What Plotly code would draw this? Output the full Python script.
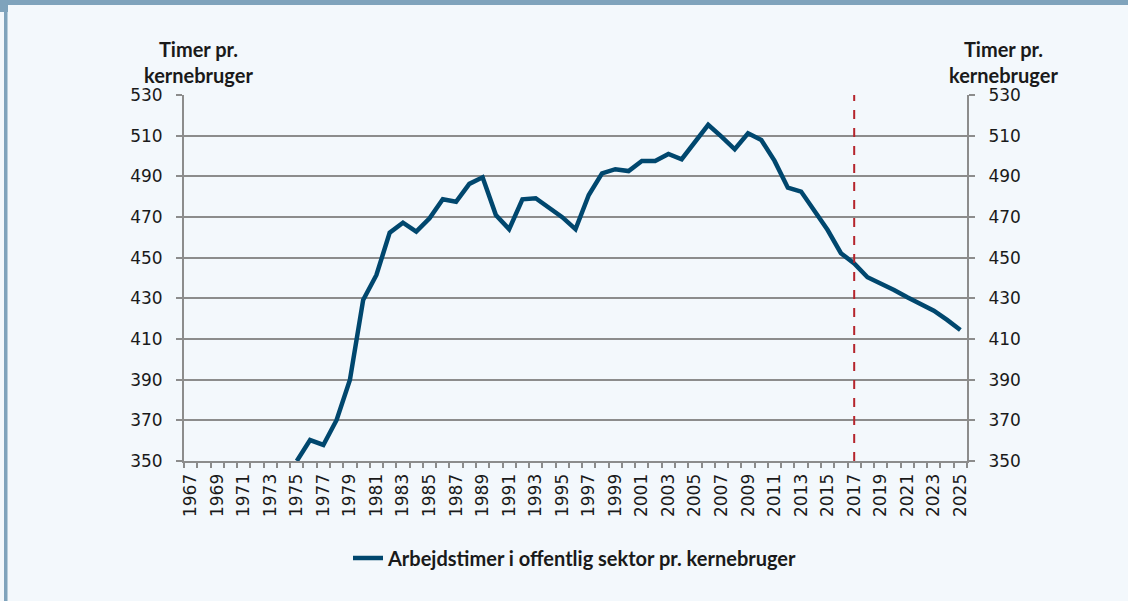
import plotly.graph_objects as go

# ---- data ----
years = list(range(1975, 2026))
hours = [350.0, 360.3, 357.9, 370.2, 389.8, 429.2, 441.5, 462.3, 467.2, 462.8,
         469.4, 478.7, 477.5, 486.3, 489.5, 471.0, 464.0, 478.7, 479.2, 474.8,
         469.9, 464.0, 480.8, 491.5, 493.5, 492.6, 497.6, 497.6, 501.0, 498.4,
         506.6, 515.3, 509.5, 503.3, 511.2, 507.9, 497.6, 484.4, 482.5, 473.5,
         463.6, 452.2, 447.2, 440.4, 437.4, 434.1, 430.5, 427.2, 423.9, 419.4,
         414.4]
series_name = "Arbejdstimer i offentlig sektor pr. kernebruger"
axis_title = "Timer pr.<br>kernebruger"
year_labels = [str(y) for y in range(1967, 2026, 2)]
y_ticks = list(range(350, 531, 20))
forecast_year = 2017
x_first, x_last = 1967, 2025

# ---- layout geometry (pixels) ----
W, H = 1128, 601
L, R, T, B = 184, 967, 95, 461


def px(x):
    return (x - L) / (R - L)


def py(y):
    return (B - y) / (B - T)


GRID = "#8c8c8c"
LINE = "#00476e"
BG = "#f3f8fc"
FRAME = "#7fa3bc"
TXT = "#1a1a1a"

fig = go.Figure()
fig.add_trace(go.Scatter(
    x=years, y=hours, mode="lines", name=series_name,
    line=dict(color=LINE, width=4.5), showlegend=True,
))
fig.add_trace(go.Scatter(
    x=years, y=hours, mode="lines", yaxis="y2", showlegend=False,
    line=dict(color="rgba(0,0,0,0)", width=0), hoverinfo="skip",
))

tickfont = dict(family="DejaVu Sans", size=17, color=TXT)
boldfont = dict(family="Lato", size=20, color=TXT, weight="bold")
yrange = [y_ticks[0], y_ticks[-1]]

fig.update_layout(
    width=W, height=H,
    margin=dict(l=L, r=W - R, t=T, b=H - B, pad=0),
    paper_bgcolor=BG, plot_bgcolor=BG,
    showlegend=True,
    legend=dict(
        orientation="h", x=0.5, xanchor="center", y=py(558), yanchor="middle",
        font=boldfont, bgcolor="rgba(0,0,0,0)",
    ),
    xaxis=dict(
        type="linear", range=[x_first - 0.5, x_last + 0.5],
        tickmode="array", tickvals=[int(v) for v in year_labels], ticktext=year_labels,
        tickangle=-90, ticks="", tickfont=tickfont, ticklabelstandoff=4,
        showgrid=False, zeroline=False,
        showline=True, linecolor=GRID, linewidth=2,
        minor=dict(ticks="outside", tick0=x_first - 0.5, dtick=1, ticklen=5,
                   tickcolor=GRID, tickwidth=2, showgrid=False),
    ),
    yaxis=dict(
        range=yrange, tickmode="array", tickvals=y_ticks,
        ticks="outside", ticklen=6, tickcolor=GRID, tickwidth=2,
        tickfont=tickfont, ticklabelstandoff=10,
        showgrid=True, gridcolor=GRID, gridwidth=2,
        zeroline=False, showline=True, linecolor=GRID, linewidth=2,
    ),
    yaxis2=dict(
        range=yrange, tickmode="array", tickvals=y_ticks, overlaying="y", side="right",
        ticks="outside", ticklen=6, tickcolor=GRID, tickwidth=2,
        tickfont=tickfont, ticklabelstandoff=10,
        showgrid=False, zeroline=False, showline=True, linecolor=GRID, linewidth=2,
    ),
    shapes=[
        dict(type="line", xref="x", yref="y", x0=forecast_year, x1=forecast_year,
             y0=yrange[0], y1=yrange[1], line=dict(color="#b5242c", width=2, dash="dash"),
             layer="above"),
        # frame decorations
        dict(type="rect", xref="paper", yref="paper", x0=px(0), x1=px(W), y0=py(0), y1=py(5),
             fillcolor=FRAME, line=dict(width=0), layer="below"),
        dict(type="rect", xref="paper", yref="paper", x0=px(0), x1=px(8), y0=py(0), y1=py(12),
             fillcolor=FRAME, line=dict(width=0), layer="below"),
        dict(type="rect", xref="paper", yref="paper", x0=px(4), x1=px(7.5), y0=py(0), y1=py(H),
             fillcolor=FRAME, line=dict(width=0), layer="below"),
    ],
    annotations=[
        dict(text=axis_title, xref="paper", yref="paper", x=px(198), y=py(89),
             xanchor="center", yanchor="bottom", showarrow=False, align="center",
             font=boldfont),
        dict(text=axis_title, xref="paper", yref="paper", x=px(1003), y=py(89),
             xanchor="center", yanchor="bottom", showarrow=False, align="center",
             font=boldfont),
    ],
)

fig.write_html(
    "out.html",
    config={"displayModeBar": False},
    post_script="document.body.style.margin='0';document.body.style.overflow='hidden';",
)
